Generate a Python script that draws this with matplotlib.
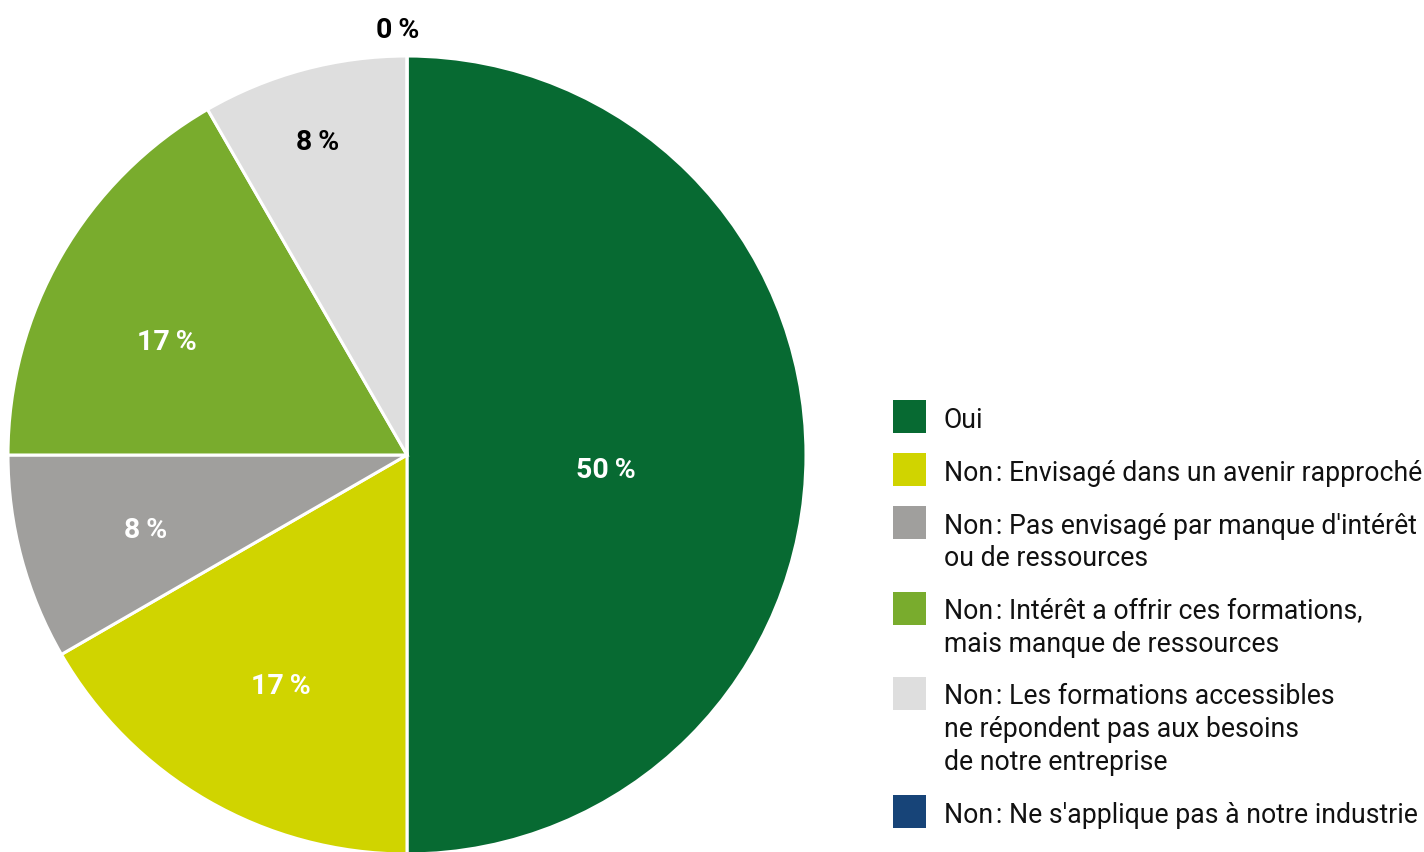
import matplotlib
matplotlib.use("Agg")
import matplotlib.pyplot as plt
from matplotlib.patches import Rectangle
import numpy as np

plt.rcParams['font.family'] = ['Roboto', 'DejaVu Sans']

# Survey answers and their shares (%)
categories = [
    "Oui",
    "Non\u200a: Envisagé dans un avenir rapproché",
    "Non\u200a: Pas envisagé par manque d'intérêt\nou de ressources",
    "Non\u200a: Intérêt a offrir ces formations,\nmais manque de ressources",
    "Non\u200a: Les formations accessibles\nne répondent pas aux besoins\nde notre entreprise",
    "Non\u200a: Ne s'applique pas à notre industrie",
]
shares = [50.0, 16.67, 8.33, 16.67, 8.33, 0.0]
colors = ["#076a32", "#d0d400", "#a09f9d", "#79ac2d", "#dedede", "#174478"]
label_colors = ["white", "white", "white", "white", "black", "black"]
label_radius = [0.50, 0.651, 0.68, 0.668, 0.825, 1.075]
label_turn = [-3.2, 1.0, 0.2, 4.2, 0.7, 1.2]   # degrees, nudges off the mid-angle

W, H = 1424, 853
fig = plt.figure(figsize=(W / 100, H / 100), dpi=100)

# Pie axes: centre (407, 456) px, radius 399 px
cx, cy, r = 407, 456, 399
ax = fig.add_axes([(cx - r) / W, (H - cy - r) / H, 2 * r / W, 2 * r / H])
wedges, _ = ax.pie(shares, colors=colors, startangle=90, counterclock=False,
                   radius=1.0, wedgeprops=dict(edgecolor="white", linewidth=2.2))
ax.set_xlim(-1, 1)
ax.set_ylim(-1, 1)
ax.set_aspect("equal")
ax.axis("off")

for w, val, col, rad, turn in zip(wedges, shares, label_colors, label_radius, label_turn):
    mid = np.deg2rad((w.theta1 + w.theta2) / 2 + turn)
    x, y = rad * np.cos(mid), rad * np.sin(mid)
    ax.text(x, y, f"{val:.0f}\u2009%", ha="center", va="center_baseline",
            color=col, fontsize=20.5, fontweight="bold", clip_on=False)

# Legend drawn as colour squares with wrapped labels
sq = 33
sq_x = 893
txt_x = 944
line_h = 32.5
y_first = 419
for cat, col in zip(categories, colors):
    n_lines = cat.count("\n") + 1
    fig.add_artist(Rectangle((sq_x / W, (H - (y_first + sq / 2 - 1.5)) / H),
                             sq / W, sq / H, transform=fig.transFigure,
                             facecolor=col, edgecolor="none"))
    base_last = y_first + 9 + line_h * (n_lines - 1)
    fig.text(txt_x / W, (H - base_last) / H, cat, ha="left", va="baseline",
             fontsize=19.2, color="#111111", linespacing=1.28)
    y_first += 53 + line_h * (n_lines - 1)

fig.savefig("out.png", dpi=100, facecolor="white")
